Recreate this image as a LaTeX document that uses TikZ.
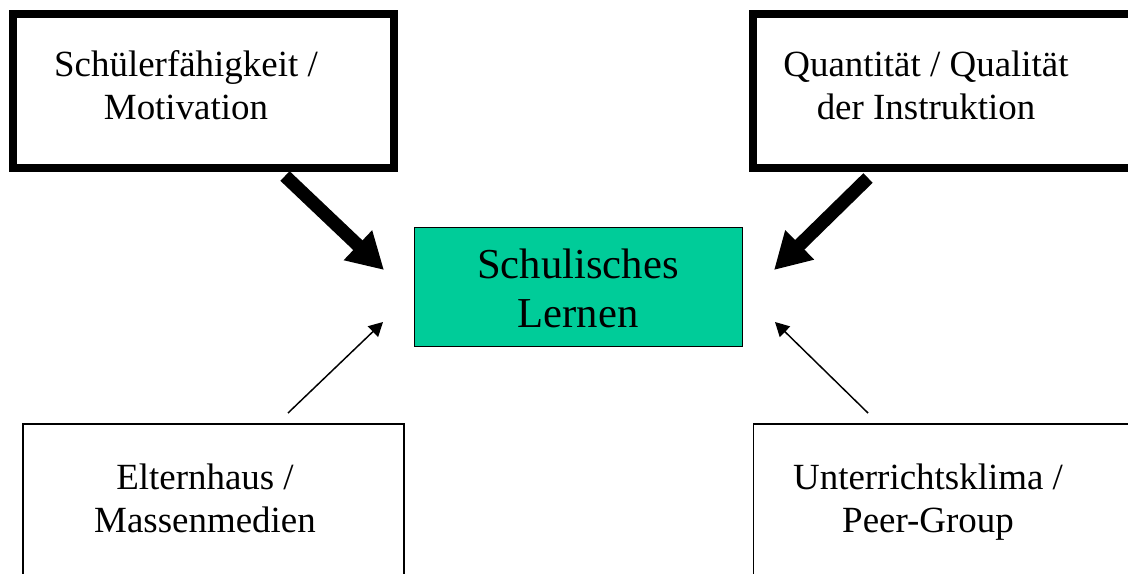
\documentclass[tikz,border=0pt]{standalone}
\usepackage{fontspec}
\setmainfont{Liberation Serif}
\usetikzlibrary{arrows.meta, positioning}

\definecolor{lerngruen}{RGB}{0,204,153}

\begin{document}
\begin{tikzpicture}[x=0.75pt, y=-0.75pt,
    strongbox/.style={draw, line width=6pt, minimum height=115.5pt, inner sep=0pt},
    weakbox/.style={draw, line width=1.1pt, minimum height=132pt, inner sep=0pt},
    boxtext/.style={align=center, inner sep=0pt, anchor=base, font=\fontsize{27.7}{32.25}\selectfont},
    bigarrow/.style={line width=10pt, -{Triangle[length=27pt, width=29pt]}},
    smallarrow/.style={line width=1.1pt, -{Triangle[length=10.5pt, width=11pt]}}]
    \useasboundingbox (0,0) rectangle (1128,574);
    \clip (0,0) rectangle (1128,574);

    % boxes
    \node[strongbox, minimum width=285.75pt] (faehig) at (203.5,91) {};
    \node[strongbox, minimum width=290.25pt] (instr) at (946.5,91) {};
    \node[draw, fill=lerngruen, line width=0.75pt, minimum width=246pt, minimum height=89.25pt, inner sep=0pt] (lernen) at (578.5,287) {};
    \node[weakbox, minimum width=285.75pt] (eltern) at (213.5,512) {};
    \node[weakbox, minimum width=289.9pt] (klima) at (946.75,512) {};

    % texts (anchored at the last baseline)
    \node[boxtext] (faehigtxt) at (186,120) {Schülerfähigkeit /\\Motivation};
    \node[boxtext] (instrtxt) at (926,120) {Quantität / Qualität\\der Instruktion};
    \node[boxtext, font=\fontsize{32}{36.75}\selectfont] (lernentxt) at (578,327) {Schulisches\\Lernen};
    \node[boxtext] (elterntxt) at (205,532) {Elternhaus /\\Massenmedien};
    \node[boxtext] (klimatxt) at (928,532) {Unterrichtsklima /\\Peer-Group};

    % arrow ends
    \coordinate (faehigend) at (285,176);
    \coordinate (faehigtip) at (384,270);
    \coordinate (instrend) at (868,178);
    \coordinate (instrtip) at (774,270);
    \coordinate (elternend) at (288,413);
    \coordinate (elterntip) at (383,322);
    \coordinate (klimaend) at (868,413);
    \coordinate (klimatip) at (775,322);

    \path
    (faehigend) edge[bigarrow] (faehigtip)
    (instrend) edge[bigarrow] (instrtip)
    (elternend) edge[smallarrow] (elterntip)
    (klimaend) edge[smallarrow] (klimatip);
\end{tikzpicture}
\end{document}
